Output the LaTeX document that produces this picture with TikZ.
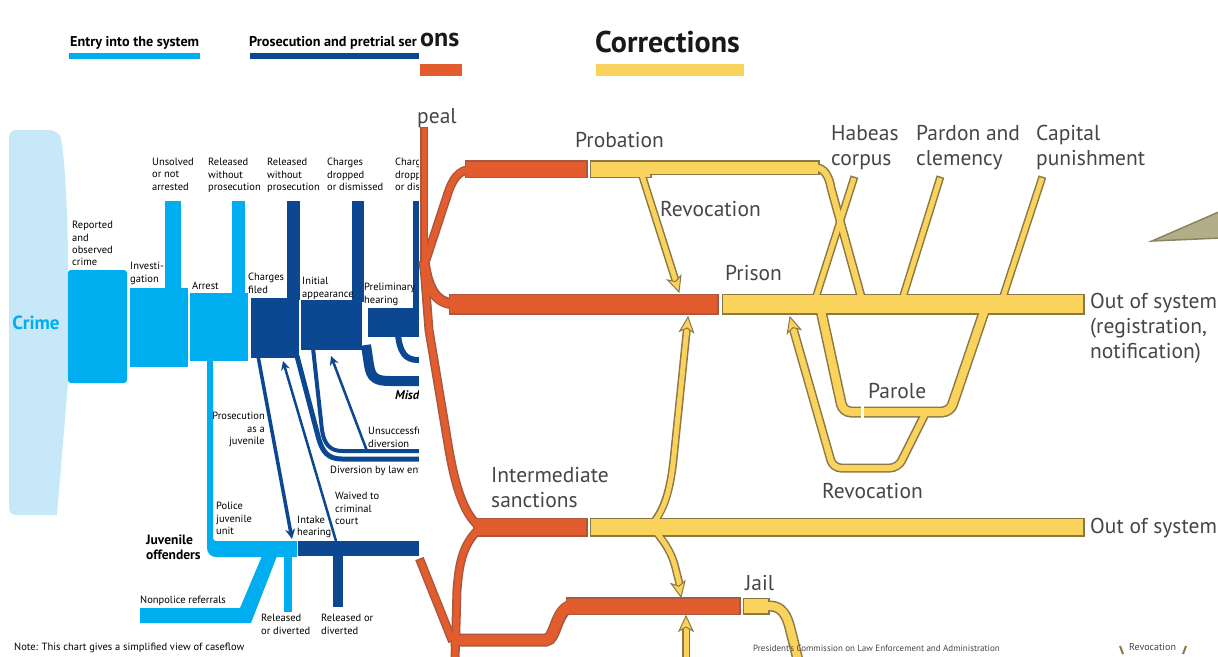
\documentclass[tikz,border=0pt]{standalone}
\usepackage{fontspec}
\setmainfont{PT Sans}
\usetikzlibrary{arrows.meta}
\definecolor{cyanB}{RGB}{0,174,239}
\definecolor{navyB}{RGB}{11,72,145}
\definecolor{lightB}{RGB}{198,232,249}
\definecolor{ofill}{RGB}{227,92,45}
\definecolor{oedge}{RGB}{168,88,62}
\definecolor{yfill}{RGB}{250,211,92}
\definecolor{yedge}{RGB}{140,120,70}
\definecolor{rtext}{RGB}{70,70,70}
\definecolor{trif}{RGB}{180,174,136}
\definecolor{trie}{RGB}{138,132,96}

\newcommand\OrangePaths{%
 \draw[S=5] (424,128) -- (424,268);
 \draw[S=6] (424,266) -- (447,196) .. controls (452,180) and (458,169) .. (472,169);
 \draw[S=15] (466,169) -- (586,169);
 \draw[S=8] (424,262) .. controls (428,290) and (436,304) .. (455,304);
 \draw[S=18] (450,304) -- (717,304);
 \draw[S=6] (424,266) -- (429,330) -- (449,450) .. controls (454,478) and (462,515) .. (480,527);
 \draw[S=16] (474,527) -- (586,527);
 \draw[S=6] (478,530) .. controls (462,545) and (459,565) .. (457,590) -- (455,660);
 \draw[S=6] (420,560) -- (452,640);
 \draw[S=10] (452,640) -- (546,640) .. controls (556,640) and (556,606) .. (572,606);
 \draw[S=15] (567,606) -- (739,606);
}
\newcommand\YellowPaths{%
 \draw[S=15] (591,169) -- (650,169);
 \draw[S=6] (800,167.5) -- (815,167.5) .. controls (824,167.5) and (829,176) .. (831,188) -- (862,300);
 \draw[S=12] (645,167.5) -- (818,167.5);
 \draw[S=5] (854,178) -- (815,300);
 \draw[S=5] (940,178) -- (902,300);
 \draw[S=5] (1042,178) -- (1002,300);
 \draw[S=5] (641,172) -- (676,282);
 \draw[S=18] (723,304) -- (1083,304);
 \draw[S=8, rounded corners=8pt] (820,306) -- (843,412) -- (950,412) -- (986,306);
 \draw[S=6, rounded corners=8pt] (925,414) -- (898,468) -- (833,468) -- (793,328);
 \draw[S=16] (591,527) -- (1083,527);
 \draw[S=5] (653,523) .. controls (666,508) and (671,485) .. (674,455) -- (687,328);
 \draw[S=5] (656,532) .. controls (667,545) and (672,555) .. (675,566) -- (680,586);
 \draw[S=5] (686,660) -- (686,626);
 \draw[S=14] (744,606) -- (768,606);
 \draw[S=8] (760,606) -- (770,606) .. controls (782,606) and (787,616) .. (790,628) -- (798,660);
}

\begin{document}
\begin{tikzpicture}[x=1pt,y=-1pt,
 lab/.style={font=\fontsize{10.5}{12.4}\selectfont, inner sep=0pt, anchor=north west, align=left, text=black},
 labr/.style={lab, anchor=north east, align=right},
 head/.style={font=\bfseries\fontsize{14.2}{16}\selectfont, inner sep=0pt, anchor=north west},
 rlab/.style={font=\fontsize{21.5}{25}\selectfont, inner sep=0pt, anchor=north west, align=left, text=rtext},
 big/.style={font=\bfseries\fontsize{30}{34}\selectfont, inner sep=0pt, text=black!90},
 ytip/.pic={\filldraw[fill=yfill, draw=yedge, line width=1pt] (0,0) -- (-7,15) -- (0,11) -- (7,15) -- cycle;}
]
\useasboundingbox (0,0) rectangle (1218,656);
\fill[white] (0,0) rectangle (1218,656);

% ---------- left part ----------
\node[head] (h1) at (70,36) {Entry into the system};
\fill[cyanB] (69,53) rectangle (200,59);
\node[head] (h2) at (249,36) {Prosecution and pretrial ser};
\fill[navyB] (250,53) rectangle (420,59);

\fill[lightB] (68,300) -- (68,383) -- (57,515) [rounded corners=7pt] -- (9,515) -- (9,130) -- (56,130) [sharp corners] .. controls (63,140) and (68,200) .. (68,268) -- cycle;
\node[font=\bfseries\fontsize{19}{22}\selectfont, text=cyanB, inner sep=0pt] (crime) at (36,323) {Crime};

\fill[cyanB, rounded corners=3pt] (68,270) rectangle (127,383);
\fill[cyanB] (130,288) rectangle (188,367);
\fill[cyanB] (165,201) rectangle (181,290);
\fill[cyanB] (190,293) rectangle (248,361);
\fill[cyanB] (232,201) rectangle (245,295);
\fill[cyanB] (207,355) [rounded corners=9pt] -- (207,557) [sharp corners] -- (297,557) -- (297,541) [rounded corners=3pt] -- (213,541) [sharp corners] -- (213,355) -- cycle;
\fill[cyanB] (140,608) -- (240,608) -- (262,556) -- (277,556) -- (251,623) -- (140,623) -- cycle;
\fill[cyanB] (284,555) rectangle (292,612);

\fill[navyB] (251,298) rectangle (299,358);
\fill[navyB] (287,201) rectangle (300,300);
\fill[navyB] (301,300) rectangle (362,350);
\fill[navyB] (352,201) rectangle (364,302);
\fill[navyB] (368,308) rectangle (422,337);
\fill[navyB] (413,201) rectangle (425,310);
\draw[navyB, line width=10pt] (366,345) -- (369,365) .. controls (371,378) and (376,381) .. (390,381) -- (422,381);
\draw[navyB, line width=6pt] (398,335) .. controls (400,352) and (405,360) .. (418,360) -- (422,360);

\draw[navyB, line width=3.5pt, -{Stealth[length=10pt,width=10pt]}] (258,356) -- (292,539);
\draw[navyB, line width=2.5pt, -{Stealth[length=9pt,width=9pt]}] (336,541) -- (283,361);
\draw[navyB, line width=5pt] (297,356) -- (318,436) .. controls (322,452) and (328,459) .. (342,459) -- (422,459);
\draw[navyB, line width=4pt] (313,348) -- (322,430) .. controls (324,444) and (330,451) .. (342,451) -- (422,451);
\draw[navyB, line width=2.5pt, -{Stealth[length=9pt,width=9pt]}] (367,451) -- (331,356);

\fill[navyB] (298,541) rectangle (422,556);
\fill[navyB] (333,554) rectangle (343,607);

\node[lab] (l1) at (152,158) {Unsolved\\or not\\arrested};
\node[lab] (l2) at (208,158) {Released\\without\\prosecution};
\node[lab] (l3) at (267,158) {Released\\without\\prosecution};
\node[lab] (l4) at (327,158) {Charges\\dropped\\or dismissed};
\node[lab] (l5) at (395,158) {Charges\\dropped\\or dismissed};
\node[lab] (l6) at (72,221) {Reported\\and\\observed\\crime};
\node[lab] (l7) at (130,262) {Investi-\\gation};
\node[lab] (l8) at (192,282) {Arrest};
\node[lab] (l9) at (248,273) {Charges\\filed};
\node[lab] (l10) at (302,277) {Initial\\appearance};
\node[lab] (l11) at (364,283) {Preliminary\\hearing};
\node[lab, font=\bfseries\itshape\fontsize{12.5}{14}\selectfont] (l12) at (395,390) {Misdemeanors};
\node[labr] (l13) at (265,412) {Prosecution\\as a\\juvenile};
\node[lab] (l14) at (368,427) {Unsuccessful\\diversion};
\node[lab] (l15) at (330,466) {Diversion by law enforcement};
\node[lab] (l16) at (335,492) {Waived to\\criminal\\court};
\node[lab] (l17) at (216,502) {Police\\juvenile\\unit};
\node[lab] (l18) at (297,516) {Intake\\hearing};
\node[lab, font=\bfseries\fontsize{13.5}{14.5}\selectfont] (l19) at (146,535) {Juvenile\\offenders};
\node[lab] (l20) at (140,596) {Nonpolice referrals};
\node[lab] (l21) at (261,614) {Released\\or diverted};
\node[lab] (l22) at (321,614) {Released or\\diverted};
\node[lab] (note) at (14,643) {Note: This chart gives a simplified view of caseflow};

% ---------- right part ----------
\fill[white] (419,0) rectangle (1218,656);
\fill[ofill] (420,64) rectangle (462,76);
\fill[yfill] (596,64) rectangle (744,76);
\node[big, anchor=north west, font=\bfseries\fontsize{26}{30}\selectfont] (ons) at (420,33) {ons};
\node[big, anchor=north west] (corr) at (595,31) {Corrections};

\tikzset{S/.style={draw=oedge, line width=#1+3, shorten <=-1.5pt, shorten >=-1.5pt}}
\OrangePaths
\tikzset{S/.style={draw=ofill, line width=#1}}
\OrangePaths
\tikzset{S/.style={draw=yedge, line width=#1+3, shorten <=-1.5pt, shorten >=-1.5pt}}
\YellowPaths
\tikzset{S/.style={draw=yfill, line width=#1}}
\YellowPaths
\fill[white] (860.5,405) rectangle (863.5,419);

\pic[rotate=-161.6] at (679,292) {ytip};
\pic[rotate=-5.4] at (688,317) {ytip};
\pic[rotate=-168.7] at (681,597) {ytip};
\pic at (686,616) {ytip};
\pic[rotate=15.7] at (790,317) {ytip};

\filldraw[fill=trif, draw=trie, line width=1.5pt] (1152,241) -- (1221,211) -- (1221,238) -- cycle;

\node[rlab] (peal) at (417,108) {peal};
\node[rlab] (probation) at (575,132) {Probation};
\node[rlab] (rev1) at (660,201) {Revocation};
\node[rlab] (prison) at (725,265) {Prison};
\node[rlab] (habeas) at (831,125) {Habeas\\corpus};
\node[rlab] (pardon) at (916,125) {Pardon and\\clemency};
\node[rlab] (capital) at (1036,125) {Capital\\punishment};
\node[rlab] (out1) at (1090,293) {Out of system\\(registration,\\notification)};
\node[rlab] (parole) at (868,383) {Parole};
\node[rlab] (rev2) at (822,483) {Revocation};
\node[rlab] (inter) at (491,467) {Intermediate\\sanctions};
\node[rlab] (out2) at (1090,518) {Out of system};
\node[rlab] (jail) at (745,575) {Jail};
\node[font=\fontsize{9}{11}\selectfont, inner sep=0pt, anchor=north west, text=rtext] (src) at (753,645) {President's Commission on Law Enforcement and Administration};
\node[font=\fontsize{10}{12}\selectfont, inner sep=0pt, anchor=north west, text=rtext] (rev3) at (1129,643) {Revocation};
\draw[yedge, line width=2pt] (1120,646) -- (1123,654);
\draw[yedge, line width=2pt] (1186,646) -- (1183,654);
\end{tikzpicture}
\end{document}
